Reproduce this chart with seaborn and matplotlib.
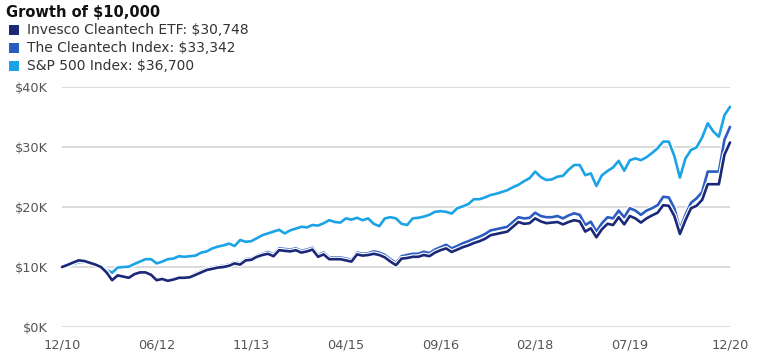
import numpy as np
import pandas as pd
import matplotlib
matplotlib.use("Agg")
import matplotlib.pyplot as plt
import matplotlib.patheffects as pe
from matplotlib.patches import Rectangle
import seaborn as sns

# ---- data (values in $K, monthly from 12/10 to 12/20) ----
sp500 = [10.0, 10.25, 10.5, 10.8, 10.85, 10.7, 10.6, 10.3, 9.5, 9.05,
         9.9, 10.0, 10.05, 10.5, 10.9, 11.3, 11.3, 10.6, 10.9, 11.3,
         11.4, 11.8, 11.7, 11.8, 11.9, 12.4, 12.6, 13.1, 13.4, 13.6,
         13.9, 13.5, 14.5, 14.2, 14.3, 14.8, 15.3, 15.6, 15.9, 16.2,
         15.6, 16.1, 16.4, 16.7, 16.6, 17.0, 16.9, 17.3, 17.8, 17.5,
         17.4, 18.1, 17.9, 18.2, 17.8, 18.1, 17.2, 16.8, 18.1, 18.3,
         18.1, 17.2, 17.0, 18.1, 18.2, 18.4, 18.7, 19.2, 19.3, 19.2,
         18.9, 19.8, 20.1, 20.5, 21.3, 21.3, 21.6, 22.0, 22.2, 22.5,
         22.8, 23.3, 23.7, 24.3, 24.8, 25.9, 25.0, 24.5, 24.6, 25.05,
         25.2, 26.2, 27.0, 27.0, 25.3, 25.6, 23.5, 25.3, 26.0, 26.6,
         27.7, 26.05, 27.8, 28.1, 27.8, 28.3, 29.0, 29.8, 30.9, 30.9,
         28.5, 24.9, 28.1, 29.5, 29.95, 31.6, 33.95, 32.6, 31.7, 35.3,
         36.7]

cleantech_index = [10.0, 10.4, 10.8, 11.2, 11.1, 10.8, 10.5, 10.1, 9.2, 7.9,
                   8.7, 8.5, 8.3, 8.9, 9.2, 9.2, 8.8, 7.9, 8.1, 7.8,
                   8.0, 8.3, 8.3, 8.4, 8.9, 9.3, 9.7, 9.9, 10.1, 10.2,
                   10.4, 10.8, 10.6, 11.3, 11.4, 11.9, 12.2, 12.5, 12.1, 13.1,
                   13.0, 12.9, 13.1, 12.7, 12.9, 13.2, 12.0, 12.4, 11.6, 11.6,
                   11.6, 11.4, 11.2, 12.4, 12.2, 12.3, 12.6, 12.4, 12.0, 11.3,
                   10.7, 11.8, 12.0, 12.2, 12.2, 12.55, 12.3, 12.9, 13.3, 13.7,
                   13.1, 13.5, 13.95, 14.3, 14.7, 15.05, 15.5, 16.1, 16.3, 16.5,
                   16.7, 17.5, 18.3, 18.1, 18.2, 19.05, 18.5, 18.3, 18.3, 18.5,
                   18.1, 18.6, 18.95, 18.7, 17.0, 17.55, 15.9, 17.3, 18.3, 18.1,
                   19.4, 18.3, 19.8, 19.4, 18.7, 19.4, 19.8, 20.3, 21.7, 21.6,
                   19.8, 16.3, 18.7, 20.7, 21.45, 22.5, 25.9, 25.9, 25.9, 31.2,
                   33.342]

cleantech_etf = [10.0, 10.35, 10.75, 11.1, 11.0, 10.7, 10.4, 10.0, 9.1, 7.8,
                 8.6, 8.4, 8.2, 8.8, 9.1, 9.1, 8.7, 7.8, 8.0, 7.7,
                 7.9, 8.2, 8.2, 8.3, 8.7, 9.1, 9.5, 9.7, 9.9, 10.0,
                 10.2, 10.6, 10.4, 11.1, 11.2, 11.7, 12.0, 12.2, 11.8, 12.8,
                 12.7, 12.6, 12.8, 12.4, 12.6, 12.9, 11.7, 12.1, 11.3, 11.3,
                 11.3, 11.1, 10.9, 12.1, 11.9, 12.0, 12.2, 12.0, 11.6, 10.9,
                 10.3, 11.4, 11.5, 11.7, 11.7, 12.0, 11.8, 12.4, 12.8, 13.1,
                 12.5, 12.9, 13.3, 13.6, 14.0, 14.3, 14.7, 15.3, 15.5, 15.7,
                 15.9, 16.7, 17.5, 17.2, 17.3, 18.1, 17.6, 17.3, 17.4, 17.5,
                 17.1, 17.5, 17.8, 17.6, 15.9, 16.45, 14.95, 16.3, 17.2, 17.0,
                 18.3, 17.1, 18.5, 18.1, 17.4, 18.1, 18.6, 19.05, 20.3, 20.2,
                 18.5, 15.5, 17.8, 19.8, 20.2, 21.2, 23.8, 23.8, 23.8, 28.7,
                 30.748]

series_names = ["Invesco Cleantech ETF", "The Cleantech Index", "S&P 500 Index"]
legend_labels = ["Invesco Cleantech ETF: $30,748",
                 "The Cleantech Index: $33,342",
                 "S&P 500 Index: $36,700"]
colors = ["#1b2878", "#2a5cc2", "#1ca3e6"]

x_tick_labels = ["12/10", "06/12", "11/13", "04/15", "09/16", "02/18", "07/19", "12/20"]
x_tick_pos = [0, 17, 34, 51, 68, 85, 102, 120]
y_ticks = [0, 10000, 20000, 30000, 40000]
y_tick_labels = ["$0K", "$10K", "$20K", "$30K", "$40K"]

months = np.arange(len(sp500))
df = pd.concat([
    pd.DataFrame({"month": months, "value": np.array(vals) * 1000, "series": name})
    for name, vals in zip(series_names, [cleantech_etf, cleantech_index, sp500])
])

# ---- figure ----
sns.set_theme(style="white")
plt.rcParams["font.family"] = ["DejaVu Sans"]

W, H = 768, 361
fig = plt.figure(figsize=(W / 100, H / 100), dpi=100)
ax = fig.add_axes([62 / W, 1 - 327 / H, (730 - 62) / W, (327 - 87) / H])

# draw back-to-front: S&P, Index, ETF
order = [2, 1, 0]
for k in order:
    sub = df[df["series"] == series_names[k]]
    sns.lineplot(data=sub, x="month", y="value", ax=ax, color=colors[k],
                 linewidth=1.9, legend=False, clip_on=False, zorder=3 + (2 - k))
for line in ax.get_lines():
    line.set_path_effects([pe.Stroke(linewidth=3.6, foreground="white"), pe.Normal()])

ax.set_xlim(0, 120)
ax.set_ylim(0, 40000)
ax.set_yticks(y_ticks)
ax.set_yticklabels(y_tick_labels)
ax.set_xticks(x_tick_pos)
ax.set_xticklabels(x_tick_labels)
ax.tick_params(axis="both", length=0, labelsize=9.3, labelcolor="#555555")
ax.tick_params(axis="y", pad=10)
ax.tick_params(axis="x", pad=8)
ax.grid(axis="y", color="#d4d4d4", linewidth=1.2)
ax.set_axisbelow(True)
for s in ax.spines.values():
    s.set_visible(False)
ax.set_xlabel("")
ax.set_ylabel("")

# title
fig.text(6 / W, 1 - 12 / H, "Growth of $10,000", fontsize=10.5, fontweight="bold",
         color="#111111", ha="left", va="center")

# legend
for i, (lab, c) in enumerate(zip(legend_labels, colors)):
    yc = 30 + i * 18
    fig.patches.append(Rectangle((9 / W, 1 - (yc + 5) / H), 10 / W, 10 / H,
                                 transform=fig.transFigure, facecolor=c,
                                 edgecolor="none"))
    fig.text(27 / W, 1 - yc / H, lab, fontsize=10, color="#333333",
             ha="left", va="center")

fig.savefig("out.png", dpi=100)
